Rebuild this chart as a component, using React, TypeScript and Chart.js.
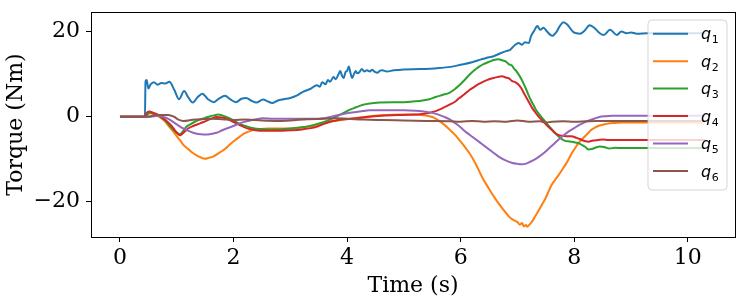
import React, { useEffect, useRef } from "react";
import { Chart, registerables } from "chart.js";

Chart.register(...registerables);

// ---------- data (time in s, torque in Nm) ----------
const q1Time = [0, 0.44, 0.45, 0.47, 0.5, 0.54, 0.6, 0.66, 0.73, 0.8, 0.87, 0.96, 1.04, 1.13, 1.2, 1.28, 1.37, 1.45, 1.55, 1.65, 1.75, 1.85, 1.94, 2.04, 2.14, 2.22, 2.32, 2.4, 2.52, 2.6, 2.68, 2.78, 2.88, 3.0, 3.12, 3.23, 3.35, 3.47, 3.52, 3.56, 3.62, 3.66, 3.7, 3.76, 3.8, 3.85, 3.88, 3.91, 3.94, 3.97, 4.0, 4.03, 4.06, 4.09, 4.12, 4.15, 4.18, 4.22, 4.26, 4.3, 4.35, 4.4, 4.44, 4.49, 4.53, 4.58, 4.62, 4.7, 4.82, 5.0, 5.29, 5.59, 5.82, 6.0, 6.2, 6.35, 6.45, 6.58, 6.7, 6.8, 6.87, 6.96, 7.02, 7.08, 7.13, 7.2, 7.24, 7.29, 7.35, 7.4, 7.46, 7.52, 7.61, 7.69, 7.75, 7.81, 7.88, 7.99, 8.1, 8.18, 8.27, 8.35, 8.45, 8.52, 8.63, 8.75, 8.83, 8.92, 9.0, 9.1, 9.3, 9.6, 10.0, 10.31];
const q1Torque = [0, 0, 8.3, 8.6, 6.6, 7.6, 8.1, 7.5, 7.9, 7.8, 8.2, 6.2, 4.1, 6.0, 4.6, 3.3, 4.6, 5.4, 4.1, 3.4, 4.3, 4.9, 4.1, 3.4, 4.2, 4.4, 3.7, 3.3, 4.0, 3.6, 3.2, 3.8, 4.1, 4.4, 5.0, 5.9, 6.5, 7.4, 7.0, 8.1, 7.6, 8.6, 8.2, 9.3, 8.8, 10.0, 10.7, 9.6, 9.1, 10.4, 10.8, 11.8, 10.2, 9.1, 10.0, 10.7, 10.2, 10.5, 11.2, 10.6, 10.9, 10.6, 11.0, 10.5, 10.3, 10.8, 10.9, 10.6, 10.9, 11.1, 11.2, 11.4, 11.7, 12.2, 12.8, 13.4, 13.8, 14.2, 14.9, 15.4, 15.7, 16.9, 17.3, 16.9, 17.5, 17.3, 19.0, 20.1, 21.3, 20.4, 20.9, 20.0, 19.0, 20.0, 21.4, 22.2, 21.6, 19.8, 19.5, 20.2, 21.5, 20.9, 19.6, 19.2, 20.4, 19.2, 20.0, 19.6, 19.8, 19.5, 19.6, 19.6, 19.6, 19.6];

const q2Time = [0, 0.45, 0.52, 0.62, 0.72, 0.8, 0.88, 0.94, 1.0, 1.06, 1.12, 1.2, 1.26, 1.35, 1.41, 1.5, 1.56, 1.64, 1.76, 1.85, 1.94, 2.03, 2.11, 2.2, 2.29, 2.38, 2.46, 2.6, 2.8, 3.0, 3.2, 3.4, 3.7, 4.0, 4.3, 4.6, 5.0, 5.3, 5.5, 5.62, 5.72, 5.8, 5.9, 5.97, 6.06, 6.15, 6.26, 6.38, 6.5, 6.62, 6.73, 6.85, 6.94, 7.0, 7.04, 7.08, 7.11, 7.15, 7.17, 7.21, 7.25, 7.31, 7.37, 7.43, 7.49, 7.55, 7.6, 7.66, 7.72, 7.78, 7.84, 7.9, 7.95, 8.01, 8.07, 8.13, 8.19, 8.25, 8.3, 8.36, 8.42, 8.5, 8.6, 8.72, 8.85, 9.0, 9.5, 10.31];
const q2Torque = [0, 0, 0.8, 0.5, -0.3, -1.2, -2.6, -3.5, -4.6, -5.6, -6.7, -7.6, -8.3, -9.1, -9.5, -9.9, -9.7, -9.4, -8.4, -7.6, -6.5, -5.5, -4.7, -3.9, -3.4, -3.0, -2.9, -2.8, -2.8, -2.8, -2.5, -2.2, -1.2, -0.6, -0.1, 0.3, 0.5, 0.4, -0.1, -1.0, -2.0, -3.0, -4.3, -5.4, -6.9, -8.5, -11.0, -14.3, -17.0, -19.5, -21.5, -23.5, -24.4, -24.8, -25.4, -25.0, -25.8, -25.5, -25.9, -25.4, -24.8, -23.5, -22.1, -20.7, -19.3, -17.5, -16.1, -14.9, -13.8, -12.6, -11.4, -10.0, -8.7, -7.5, -6.3, -5.4, -4.6, -3.8, -3.1, -2.6, -2.2, -1.9, -1.6, -1.5, -1.4, -1.4, -1.4, -1.4];

const q3Time = [0, 0.45, 0.52, 0.62, 0.72, 0.8, 0.88, 0.95, 1.02, 1.06, 1.1, 1.17, 1.24, 1.32, 1.41, 1.5, 1.59, 1.66, 1.73, 1.8, 1.88, 1.99, 2.11, 2.23, 2.35, 2.46, 2.6, 2.8, 3.0, 3.22, 3.4, 3.58, 3.7, 3.81, 3.93, 4.04, 4.16, 4.28, 4.4, 4.57, 4.8, 5.0, 5.2, 5.33, 5.45, 5.56, 5.68, 5.8, 5.9, 5.97, 6.06, 6.15, 6.24, 6.32, 6.41, 6.5, 6.58, 6.67, 6.74, 6.79, 6.85, 6.9, 6.94, 6.98, 7.02, 7.07, 7.11, 7.15, 7.2, 7.25, 7.29, 7.33, 7.38, 7.44, 7.49, 7.56, 7.63, 7.7, 7.78, 7.84, 7.9, 7.96, 8.02, 8.08, 8.14, 8.2, 8.25, 8.31, 8.37, 8.45, 8.54, 8.62, 8.72, 8.85, 9.0, 9.5, 10.31];
const q3Torque = [0, 0, 0.9, 0.6, 0, -1.0, -2.2, -3.2, -3.9, -4.2, -3.6, -2.4, -1.8, -1.2, -0.7, -0.3, 0.1, 0.3, 0.5, 0.3, -0.1, -0.8, -1.7, -2.3, -2.7, -2.9, -3.0, -3.0, -2.8, -2.5, -2.0, -1.3, -0.7, 0, 0.8, 1.6, 2.2, 2.8, 3.1, 3.3, 3.4, 3.4, 3.6, 3.8, 4.1, 4.6, 5.1, 5.6, 6.5, 7.3, 8.5, 9.8, 10.9, 11.7, 12.4, 12.9, 13.3, 13.5, 13.2, 13.0, 12.3, 12.0, 11.3, 10.7, 9.9, 8.8, 7.7, 6.5, 4.9, 3.5, 2.5, 1.5, 0.6, -0.4, -1.2, -2.3, -3.4, -4.4, -5.3, -5.7, -5.8, -5.9, -6.1, -6.3, -6.7, -7.2, -7.7, -7.6, -7.3, -7.0, -7.2, -7.5, -7.3, -7.4, -7.4, -7.4, -7.4];

const q4Time = [0, 0.44, 0.47, 0.52, 0.58, 0.65, 0.72, 0.77, 0.85, 0.94, 1.0, 1.06, 1.1, 1.15, 1.2, 1.29, 1.41, 1.5, 1.59, 1.7, 1.8, 1.88, 1.99, 2.11, 2.23, 2.35, 2.46, 2.6, 2.8, 3.0, 3.2, 3.46, 3.57, 3.7, 3.81, 3.93, 4.16, 4.39, 4.6, 4.97, 5.2, 5.33, 5.45, 5.56, 5.68, 5.8, 5.9, 5.97, 6.06, 6.15, 6.24, 6.32, 6.41, 6.5, 6.58, 6.67, 6.73, 6.79, 6.85, 6.9, 6.96, 7.02, 7.07, 7.11, 7.16, 7.21, 7.26, 7.32, 7.38, 7.46, 7.53, 7.61, 7.67, 7.72, 7.78, 7.86, 7.95, 8.04, 8.12, 8.2, 8.25, 8.33, 8.42, 8.5, 8.6, 8.75, 9.0, 9.5, 10.31];
const q4Torque = [0, 0, 0.9, 1.2, 0.9, 0.6, -0.1, -0.5, -1.4, -2.7, -3.8, -4.4, -4.0, -3.4, -2.8, -2.2, -1.6, -1.1, -0.6, -0.1, -0.2, -0.5, -1.2, -2.0, -2.7, -3.1, -3.3, -3.3, -3.3, -3.2, -3.0, -2.4, -1.8, -1.2, -0.9, -0.6, -0.4, 0.0, 0.2, 0.4, 0.5, 0.6, 0.9, 1.3, 2.0, 2.8, 3.5, 4.3, 5.2, 6.2, 7.0, 7.7, 8.3, 8.8, 9.1, 9.4, 9.5, 9.2, 9.0, 8.4, 8.1, 7.5, 6.6, 5.6, 4.4, 3.2, 2.0, 0.9, -0.1, -1.2, -2.2, -3.2, -3.9, -4.3, -4.5, -4.6, -4.6, -5.0, -5.4, -5.8, -5.9, -5.6, -5.5, -5.4, -5.5, -5.5, -5.5, -5.5, -5.5];

const q5Time = [0, 0.55, 0.65, 0.77, 0.86, 0.94, 1.03, 1.12, 1.2, 1.29, 1.38, 1.47, 1.53, 1.59, 1.7, 1.8, 1.94, 2.05, 2.17, 2.29, 2.4, 2.52, 2.7, 3.0, 3.5, 3.7, 3.81, 3.93, 4.05, 4.16, 4.28, 4.39, 4.57, 4.8, 5.0, 5.2, 5.35, 5.45, 5.55, 5.62, 5.7, 5.8, 5.9, 5.97, 6.1, 6.21, 6.33, 6.44, 6.56, 6.67, 6.79, 6.91, 7.0, 7.08, 7.14, 7.21, 7.3, 7.38, 7.47, 7.56, 7.65, 7.73, 7.82, 7.91, 8.0, 8.08, 8.17, 8.26, 8.35, 8.44, 8.55, 8.67, 8.85, 9.0, 9.5, 10.31];
const q5Torque = [0, 0, 0.2, -0.1, -0.6, -1.3, -2.1, -2.8, -3.3, -3.8, -4.1, -4.2, -4.2, -4.1, -3.8, -3.2, -2.5, -1.9, -1.3, -0.9, -0.6, -0.4, -0.5, -0.5, -0.5, -0.1, 0.3, 0.6, 0.9, 1.1, 1.3, 1.5, 1.5, 1.5, 1.5, 1.4, 1.2, 1.0, 0.7, 0.4, 0, -0.6, -1.5, -2.2, -3.7, -4.8, -6.0, -7.1, -8.3, -9.4, -10.3, -10.9, -11.1, -11.2, -11.1, -10.7, -10.1, -9.4, -8.5, -7.4, -6.3, -5.3, -4.3, -3.4, -2.7, -2.0, -1.4, -0.9, -0.5, -0.1, 0.1, 0.2, 0.2, 0.2, 0.2, 0.2];

const q6Time = [0, 0.5, 0.6, 0.7, 0.85, 0.95, 1.03, 1.12, 1.25, 1.4, 1.6, 1.8, 2.0, 2.2, 2.5, 2.8, 3.0, 3.3, 3.6, 3.8, 4.0, 4.3, 4.6, 5.0, 5.4, 5.8, 6.0, 6.2, 6.4, 6.6, 6.8, 7.0, 7.2, 7.4, 7.5, 7.6, 7.8, 8.0, 8.2, 8.4, 8.6, 9.0, 9.5, 10.31];
const q6Torque = [0, 0, 0.3, 0.4, 0.4, 0, -0.7, -1.0, -0.8, -0.6, -0.5, -0.6, -0.8, -0.7, -0.9, -1.0, -0.9, -0.6, -0.5, -0.4, -0.5, -0.7, -0.8, -0.9, -1.0, -1.1, -1.2, -1.0, -1.2, -1.1, -1.2, -0.9, -1.2, -1.1, -1.4, -1.2, -1.1, -1.2, -1.1, -1.0, -1.0, -1.0, -1.0, -1.0];

const seriesSubscripts = ["1", "2", "3", "4", "5", "6"];
const seriesColors = ["#1f77b4", "#ff7f0e", "#2ca02c", "#d62728", "#9467bd", "#8c564b"];
const xTickValues = [0, 2, 4, 6, 8, 10];
const yTickValues = [-20, 0, 20];
const xAxisTitle = "Time (s)";
const yAxisTitle = "Torque (Nm)";

const seriesTimes = [q1Time, q2Time, q3Time, q4Time, q5Time, q6Time];
const seriesTorques = [q1Torque, q2Torque, q3Torque, q4Torque, q5Torque, q6Torque];

const SERIF = '"DejaVu Serif", serif';
const fmt = (v: number) => (v < 0 ? "\u2212" + Math.abs(v) : String(v));

const framePlugin = {
  id: "frameAndLegend",
  afterDatasetsDraw(chart: any) {
    const ctx = chart.ctx as CanvasRenderingContext2D;
    const { left, top, right, bottom } = chart.chartArea;
    ctx.save();
    // legend box
    const bx = 648, by = 20, bw = 79, bh = 170, r = 4;
    ctx.beginPath();
    ctx.moveTo(bx + r, by);
    ctx.lineTo(bx + bw - r, by);
    ctx.arcTo(bx + bw, by, bx + bw, by + r, r);
    ctx.lineTo(bx + bw, by + bh - r);
    ctx.arcTo(bx + bw, by + bh, bx + bw - r, by + bh, r);
    ctx.lineTo(bx + r, by + bh);
    ctx.arcTo(bx, by + bh, bx, by + bh - r, r);
    ctx.lineTo(bx, by + r);
    ctx.arcTo(bx, by, bx + r, by, r);
    ctx.closePath();
    ctx.fillStyle = "rgba(255,255,255,0.8)";
    ctx.fill();
    ctx.strokeStyle = "rgba(204,204,204,0.8)";
    ctx.lineWidth = 1;
    ctx.stroke();
    seriesSubscripts.forEach((sub, i) => {
      const y = 33.7 + i * 27.45;
      ctx.beginPath();
      ctx.strokeStyle = seriesColors[i];
      ctx.lineWidth = 2;
      ctx.moveTo(653, y);
      ctx.lineTo(688, y);
      ctx.stroke();
      ctx.fillStyle = "#000";
      ctx.textBaseline = "alphabetic";
      ctx.textAlign = "left";
      ctx.font = 'italic 16px "DejaVu Sans"';
      ctx.fillText("q", 701, y + 5.6);
      const qw = ctx.measureText("q").width;
      ctx.font = '11px "DejaVu Sans"';
      ctx.fillText(sub, 701 + qw + 0.5, y + 9.6);
    });
    // axes frame
    ctx.strokeStyle = "#000";
    ctx.lineWidth = 1;
    ctx.strokeRect(Math.round(left) + 0.5, Math.round(top) + 0.5, Math.round(right) - Math.round(left), Math.round(bottom) - Math.round(top));
    ctx.restore();
  },
};

export default function App() {
  const ref = useRef<HTMLCanvasElement | null>(null);
  useEffect(() => {
    if (!ref.current) return;
    const tickFont = { family: SERIF, size: 22 };
    const chart = new Chart(ref.current, {
      type: "line",
      data: {
        datasets: seriesTimes.map((times, i) => ({
          label: "q" + seriesSubscripts[i],
          data: times.map((t, j) => ({ x: t, y: seriesTorques[i][j] })),
          borderColor: seriesColors[i],
          backgroundColor: seriesColors[i],
          borderWidth: 2,
          pointRadius: 0,
          fill: false,
          cubicInterpolationMode: "monotone" as const,
          order: 5 - i,
        })),
      },
      options: {
        animation: false,
        responsive: false,
        devicePixelRatio: 1,
        events: [],
        layout: { padding: { top: 12, right: 15, left: 0, bottom: 0 } },
        plugins: { legend: { display: false }, tooltip: { enabled: false } },
        scales: {
          x: {
            type: "linear",
            min: -0.51,
            max: 10.83,
            afterFit: (s: any) => {
              s.height = 63;
              s.paddingLeft = 0;
              s.paddingRight = 0;
              s.paddingTop = 0;
              s.paddingBottom = 0;
            },
            afterBuildTicks: (s: any) => {
              s.ticks = xTickValues.map((v) => ({ value: v }));
            },
            ticks: { font: tickFont, color: "#000", padding: 3, autoSkip: false, maxRotation: 0, callback: (v: any) => fmt(Number(v)) },
            grid: { drawOnChartArea: false, drawTicks: true, tickLength: 5, color: "#000", lineWidth: 1 },
            border: { display: false },
            title: { display: true, text: xAxisTitle, font: tickFont, color: "#000", padding: { top: 0, bottom: 1 } },
          },
          y: {
            type: "linear",
            min: -28.3,
            max: 24.6,
            afterFit: (s: any) => {
              s.width = 91;
              s.paddingLeft = 0;
              s.paddingRight = 0;
              s.paddingTop = 0;
              s.paddingBottom = 0;
            },
            afterBuildTicks: (s: any) => {
              s.ticks = yTickValues.map((v) => ({ value: v }));
            },
            ticks: { font: tickFont, color: "#000", padding: 6, autoSkip: false, callback: (v: any) => fmt(Number(v)) },
            grid: { drawOnChartArea: false, drawTicks: true, tickLength: 5, color: "#000", lineWidth: 1 },
            border: { display: false },
            title: { display: true, text: yAxisTitle, font: tickFont, color: "#000", padding: { top: 3, bottom: 0 } },
          },
        },
      },
      plugins: [framePlugin],
    });
    return () => chart.destroy();
  }, []);
  return (
    <div style={{ position: "fixed", left: 0, top: 0, width: 750, height: 300, background: "#fff" }}>
      <canvas ref={ref} width={750} height={300} style={{ width: 750, height: 300, display: "block" }} />
    </div>
  );
}
